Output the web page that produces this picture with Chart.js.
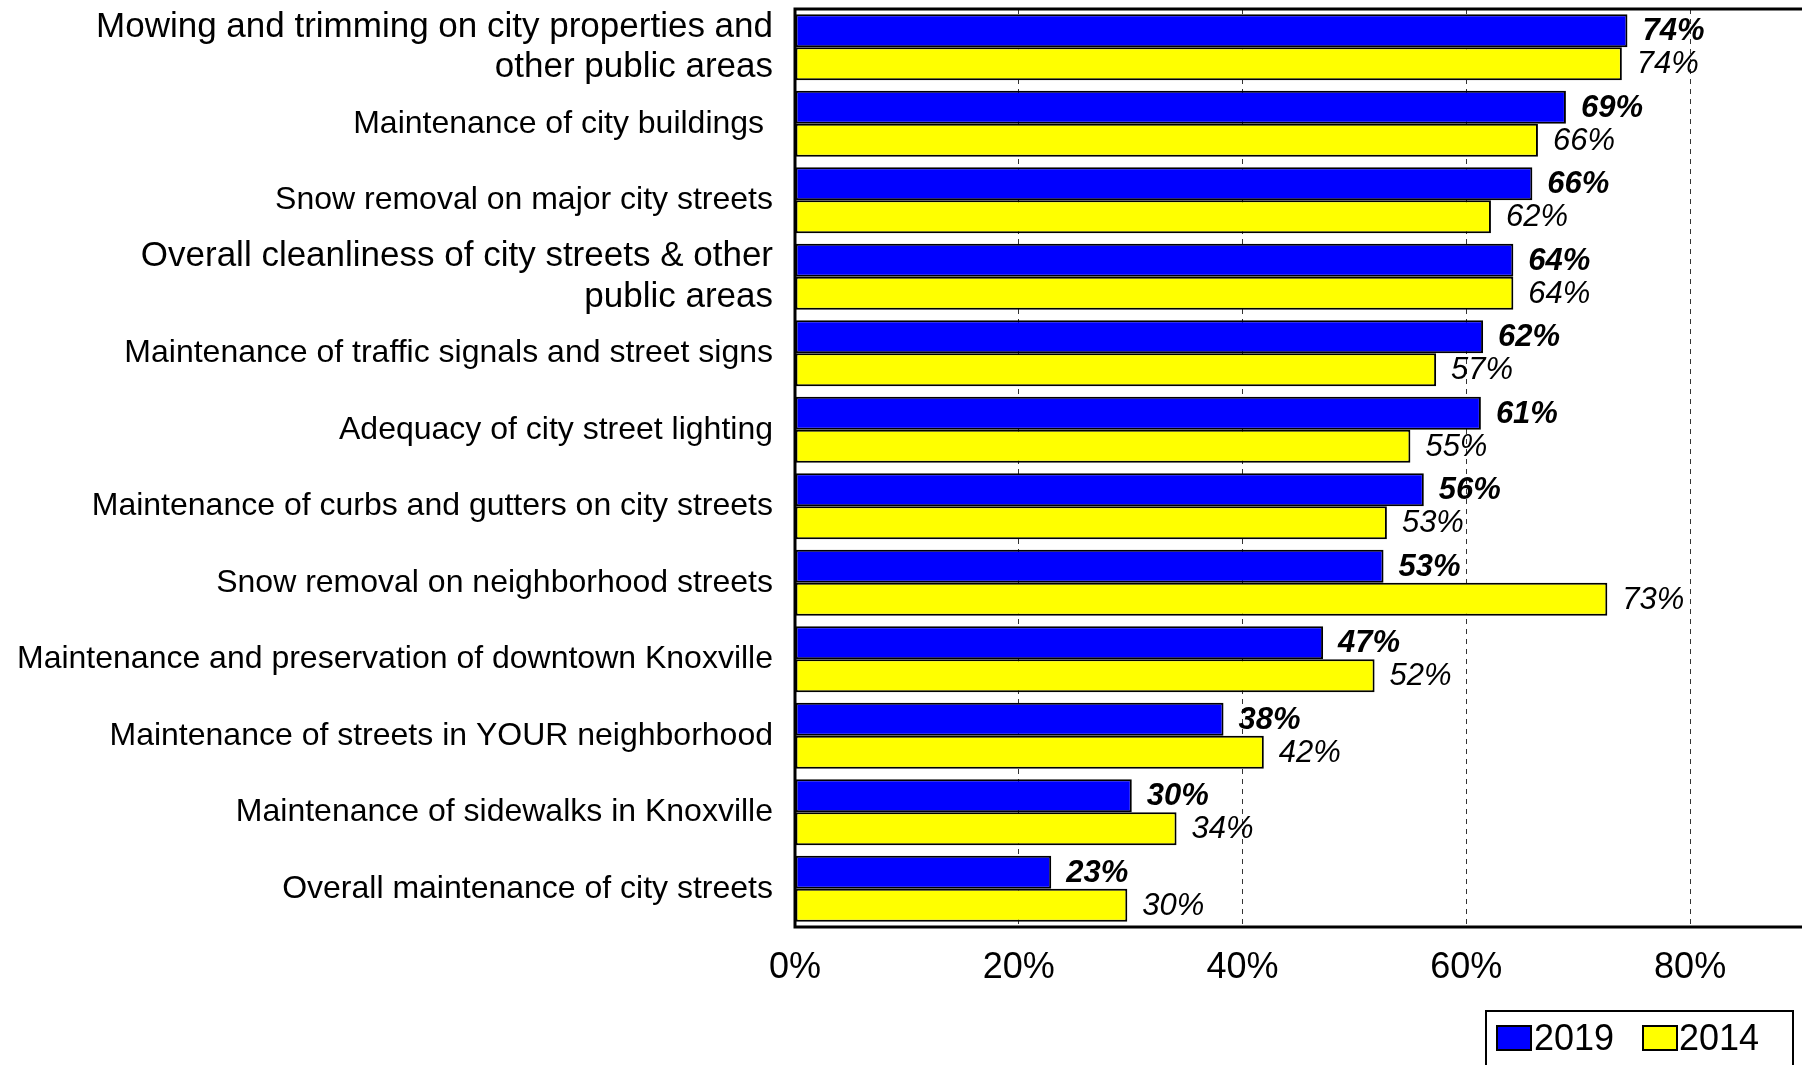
<!DOCTYPE html>
<html>
<head>
<meta charset="utf-8">
<script src="https://cdn.jsdelivr.net/npm/chart.js@4/dist/chart.umd.min.js"></script>
<style>
  html, body { margin: 0; padding: 0; background: #fff; overflow: hidden; }
  #wrap { width: 1802px; height: 1065px; }
</style>
</head>
<body>
<div id="wrap"><canvas id="chart" width="1802" height="1065"></canvas></div>
<script>
const FONT = '"Liberation Sans", Arial, sans-serif';

const categories = [
  ['Mowing and trimming on city properties and', 'other public areas'],
  'Maintenance of city buildings ',
  'Snow removal on major city streets',
  ['Overall cleanliness of city streets & other', 'public areas'],
  'Maintenance of traffic signals and street signs',
  'Adequacy of city street lighting',
  'Maintenance of curbs and gutters on city streets',
  'Snow removal on neighborhood streets',
  'Maintenance and preservation of downtown Knoxville',
  'Maintenance of streets in YOUR neighborhood',
  'Maintenance of sidewalks in Knoxville',
  'Overall maintenance of city streets',
];

// percent satisfied
const values2019 = [74.4, 68.9, 65.9, 64.2, 61.5, 61.3, 56.2, 52.6, 47.2, 38.3, 30.1, 22.9];
const values2014 = [73.9, 66.4, 62.2, 64.2, 57.3, 55.0, 52.9, 72.6, 51.8, 41.9, 34.1, 29.7];

const xTicks = [0, 20, 40, 60, 80];

// value labels next to each bar
const barLabels = {
  id: 'barLabels',
  afterDatasetsDraw(chart) {
    const ctx = chart.ctx;
    ctx.save();
    ctx.fillStyle = '#000';
    ctx.textBaseline = 'middle';
    ctx.textAlign = 'left';
    chart.data.datasets.forEach((ds, i) => {
      const meta = chart.getDatasetMeta(i);
      ctx.font = (i === 0 ? 'italic bold ' : 'italic ') + '31px ' + FONT;
      meta.data.forEach((bar, j) => {
        ctx.fillText(Math.round(ds.data[j]) + '%', bar.x + 15, bar.y + 1);
      });
    });
    ctx.restore();
  },
};

// frame (left, top, bottom) and boxed legend
const frameAndLegend = {
  id: 'frameAndLegend',
  afterDraw(chart) {
    const { ctx, chartArea: a } = chart;
    ctx.save();
    ctx.strokeStyle = '#000';
    ctx.lineWidth = 3;
    ctx.beginPath();
    ctx.moveTo(chart.width, a.top);
    ctx.lineTo(a.left, a.top);
    ctx.lineTo(a.left, a.bottom);
    ctx.lineTo(chart.width, a.bottom);
    ctx.stroke();

    // legend
    ctx.lineWidth = 2;
    ctx.strokeRect(1486, 1011, 307, 60);
    const items = [
      { x: 1497, tx: 1534 },
      { x: 1643, tx: 1679 },
    ];
    ctx.font = '36px ' + FONT;
    ctx.textBaseline = 'middle';
    ctx.textAlign = 'left';
    chart.data.datasets.forEach((ds, i) => {
      const it = items[i];
      ctx.fillStyle = ds.backgroundColor;
      ctx.fillRect(it.x, 1026, 34, 24);
      ctx.lineWidth = 2;
      ctx.strokeRect(it.x, 1026, 34, 24);
      ctx.fillStyle = '#000';
      ctx.fillText(ds.label, it.tx, 1040);
    });
    ctx.restore();
  },
};

new Chart(document.getElementById('chart').getContext('2d'), {
  type: 'bar',
  data: {
    labels: categories,
    datasets: [
      {
        label: '2019',
        data: values2019,
        backgroundColor: '#0000ff',
        borderColor: '#000',
        borderWidth: 2,
        borderSkipped: false,
        categoryPercentage: 0.865,
        barPercentage: 1,
      },
      {
        label: '2014',
        data: values2014,
        backgroundColor: '#ffff00',
        borderColor: '#000',
        borderWidth: 2,
        borderSkipped: false,
        categoryPercentage: 0.865,
        barPercentage: 1,
      },
    ],
  },
  options: {
    indexAxis: 'y',
    responsive: false,
    animation: false,
    devicePixelRatio: 1,
    layout: { padding: { top: 9, right: 0, bottom: 0, left: 0 } },
    plugins: {
      legend: { display: false },
      tooltip: { enabled: false },
    },
    scales: {
      x: {
        min: 0,
        max: 90,
        afterFit: (scale) => {
          scale.height = 138;
          scale.paddingLeft = 0;
          scale.paddingRight = 0;
        },
        afterBuildTicks: (scale) => { scale.ticks = xTicks.map((v) => ({ value: v })); },
        ticks: {
          color: '#000',
          padding: 19,
          font: { family: FONT, size: 36 },
          callback: (v) => v + '%',
        },
        grid: {
          drawTicks: false,
          color: (c) => (c.tick && c.tick.value === 0 ? 'rgba(0,0,0,0)' : '#333'),
          lineWidth: 1,
        },
        border: { display: false, dash: [5, 5] },
      },
      y: {
        afterFit: (scale) => {
          scale.width = 795;
          scale.paddingTop = 0;
          scale.paddingBottom = 0;
        },
        ticks: {
          autoSkip: false,
          color: '#000',
          padding: 22,
          // the two-line labels are set a bit larger in the original
          font: (c) => ({
            family: FONT,
            size: Array.isArray(categories[c.index]) ? 35 : 32,
            lineHeight: 1.15,
          }),
        },
        grid: {
          drawOnChartArea: false,
          drawTicks: false,
        },
        border: { display: false },
      },
    },
  },
  plugins: [barLabels, frameAndLegend],
});
</script>
</body>
</html>
